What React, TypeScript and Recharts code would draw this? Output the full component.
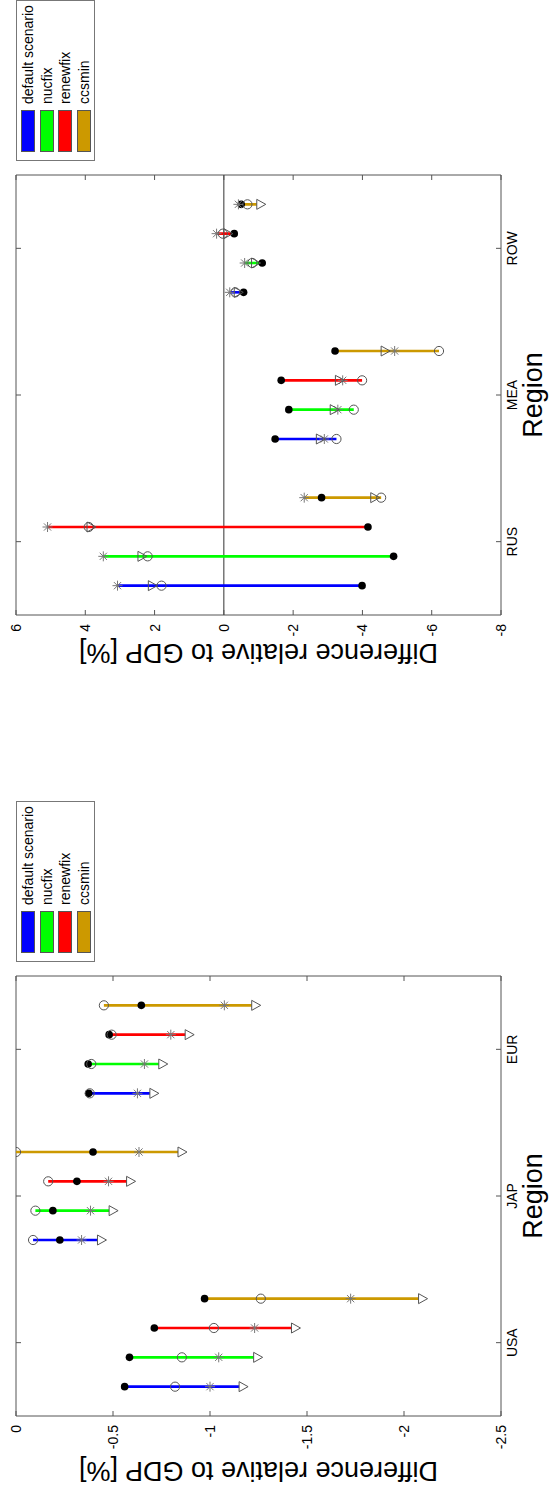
import React from "react";
import {
  ReferenceArea,
  ReferenceLine,
  Scatter,
  ScatterChart,
  XAxis,
  YAxis,
} from "recharts";

const SCENARIOS = ["default scenario", "nucfix", "renewfix", "ccsmin"];
const COLORS = ["#0000ff", "#00ff00", "#ff0000", "#cc9900"];
const OFFSETS = [-0.3, -0.1, 0.1, 0.3];

// left panel: rows = regions, columns = scenarios
const REGIONS_A = ["USA", "JAP", "EUR"];
const DOT_A = [
  [-0.56, -0.585, -0.713, -0.972],
  [-0.226, -0.19, -0.314, -0.397],
  [-0.375, -0.372, -0.48, -0.646],
];
const CIRCLE_A = [
  [-0.82, -0.855, -1.02, -1.262],
  [-0.088, -0.1, -0.166, 0],
  [-0.38, -0.388, -0.493, -0.453],
];
const STAR_A = [
  [-1.0, -1.045, -1.23, -1.725],
  [-0.338, -0.384, -0.477, -0.634],
  [-0.626, -0.662, -0.798, -1.074],
];
const TRI_A = [
  [-1.15, -1.225, -1.42, -2.075],
  [-0.42, -0.48, -0.57, -0.835],
  [-0.69, -0.736, -0.872, -1.215],
];
const TICKS_A = [0, -0.5, -1, -1.5, -2, -2.5];

// right panel
const REGIONS_B = ["RUS", "MEA", "ROW"];
const DOT_B = [
  [-3.99, -4.9, -4.16, -2.82],
  [-1.48, -1.875, -1.655, -3.21],
  [-0.57, -1.107, -0.3, -0.5],
];
const CIRCLE_B = [
  [1.8, 2.2, 3.9, -4.54],
  [-3.25, -3.75, -3.99, -6.21],
  [-0.33, -0.82, 0.03, -0.68],
];
const STAR_B = [
  [3.07, 3.48, 5.09, -2.32],
  [-2.9, -3.29, -3.43, -4.93],
  [-0.17, -0.6, 0.21, -0.42],
];
const TRI_B = [
  [2.18, 2.48, 3.95, -4.24],
  [-2.67, -3.07, -3.22, -4.54],
  [-0.3, -0.8, 0.0, -0.95],
];
const TICKS_B = [6, 4, 2, 0, -2, -4, -6, -8];

// plot box inside each chart svg
const PL = 76;
const PR = 516;
const PT = 16;
const PB = 501;
const BOX = "#555";
const FONT = "'Liberation Sans', Arial, sans-serif";

const pointsOf = (vals: number[][]) =>
  vals.flatMap((row, r) =>
    row.map((v, s) => ({ x: r + 1 + OFFSETS[s], y: v }))
  );

const Dot = ({ cx, cy }: any) => <circle cx={cx} cy={cy} r={3.8} fill="#000" />;
const Ring = ({ cx, cy }: any) => (
  <circle cx={cx} cy={cy} r={4.6} fill="none" stroke="#555" strokeWidth={1} />
);
const Star = ({ cx, cy }: any) => (
  <g stroke="#777" strokeWidth={1}>
    <line x1={cx - 5} x2={cx + 5} y1={cy} y2={cy} />
    <line x1={cx} x2={cx} y1={cy - 5} y2={cy + 5} />
    <line x1={cx - 3.6} x2={cx + 3.6} y1={cy - 3.6} y2={cy + 3.6} />
    <line x1={cx - 3.6} x2={cx + 3.6} y1={cy + 3.6} y2={cy - 3.6} />
  </g>
);
const Tri = ({ cx, cy }: any) => (
  <path
    d={`M${cx - 5},${cy} L${cx + 5},${cy} L${cx},${cy + 9} Z`}
    fill="none"
    stroke="#555"
    strokeWidth={1}
  />
);

function Panel({
  regions,
  dot,
  circle,
  star,
  tri,
  ticks,
  zero,
  labelDx,
}: {
  regions: string[];
  dot: number[][];
  circle: number[][];
  star: number[][];
  tri: number[][];
  ticks: number[];
  zero?: boolean;
  labelDx: number;
}) {
  const lo = Math.min(...ticks);
  const hi = Math.max(...ticks);

  const yTick = ({ y, payload }: any) => (
    <g>
      <line x1={PL} x2={PL + 5} y1={y} y2={y} stroke={BOX} />
      <line x1={PR - 5} x2={PR} y1={y} y2={y} stroke={BOX} />
      <text x={PL - 9} y={y} dy="0.36em" textAnchor="end" fontSize={14} fill="#000">
        {String(payload.value)}
      </text>
    </g>
  );
  const xTick = ({ x, payload }: any) => (
    <g>
      <line x1={x} x2={x} y1={PT} y2={PT + 5} stroke={BOX} />
      <line x1={x} x2={x} y1={PB - 5} y2={PB} stroke={BOX} />
      <text x={x} y={PB + 6} dy="0.71em" textAnchor="middle" fontSize={14} fill="#000">
        {regions[payload.value - 1]}
      </text>
    </g>
  );

  return (
    <ScatterChart
      width={530}
      height={549}
      margin={{ top: PT, right: 530 - PR, bottom: 0, left: 0 }}
    >
      <XAxis
        type="number"
        dataKey="x"
        domain={[0.5, 3.5]}
        ticks={[1, 2, 3]}
        allowDataOverflow
        axisLine={false}
        tickLine={false}
        tick={xTick}
        height={549 - PB}
        interval={0}
        label={{ value: "Region", position: "insideBottom", offset: 7, fontSize: 27, fill: "#000" }}
      />
      <YAxis
        type="number"
        dataKey="y"
        domain={[lo, hi]}
        ticks={ticks}
        allowDataOverflow
        axisLine={false}
        tickLine={false}
        tick={yTick}
        width={PL}
        interval={0}
        label={{
          value: "Difference relative to GDP [%]",
          angle: -90,
          position: "center",
          dx: labelDx,
          fontSize: 27,
          fill: "#000",
        }}
      />
      <ReferenceArea x1={0.5} x2={3.5} y1={lo} y2={hi} fill="none" stroke={BOX} strokeWidth={1} fillOpacity={0} />
      {zero && <ReferenceLine y={0} stroke="#333" strokeWidth={1} />}
      {regions.flatMap((reg, r) =>
        SCENARIOS.map((sc, s) => {
          const vals = [dot[r][s], circle[r][s], star[r][s], tri[r][s]];
          const x = r + 1 + OFFSETS[s];
          return (
            <Scatter
              key={`${reg}-${sc}`}
              data={[
                { x, y: Math.max(...vals) },
                { x, y: Math.min(...vals) },
              ]}
              fill={COLORS[s]}
              line={{ stroke: COLORS[s], strokeWidth: 2.6 }}
              shape={() => <g />}
              legendType="none"
              isAnimationActive={false}
            />
          );
        })
      )}
      <Scatter data={pointsOf(dot)} shape={Dot} isAnimationActive={false} />
      <Scatter data={pointsOf(circle)} shape={Ring} isAnimationActive={false} />
      <Scatter data={pointsOf(star)} shape={Star} isAnimationActive={false} />
      <Scatter data={pointsOf(tri)} shape={Tri} isAnimationActive={false} />
    </ScatterChart>
  );
}

function LegendBox({ left }: { left: number }) {
  return (
    <div
      style={{
        position: "absolute",
        left,
        top: 16,
        width: 161,
        height: 79,
        border: "1px solid #777",
        boxSizing: "border-box",
        background: "#fff",
        fontSize: 14,
      }}
    >
      {SCENARIOS.map((name, s) => (
        <div
          key={name}
          style={{
            position: "absolute",
            left: 8,
            top: 4 + s * 18.6,
            height: 14,
            display: "flex",
            alignItems: "center",
            whiteSpace: "nowrap",
          }}
        >
          <div
            style={{
              width: 42,
              height: 14,
              background: COLORS[s],
              border: "1px solid #555",
              boxSizing: "border-box",
            }}
          />
          <span style={{ marginLeft: 6, lineHeight: "14px" }}>{name}</span>
        </div>
      ))}
    </div>
  );
}

export default function App() {
  return (
    <div
      style={{
        position: "absolute",
        left: 0,
        top: 0,
        width: 549,
        height: 1492,
        overflow: "hidden",
        background: "#fff",
        fontFamily: FONT,
      }}
    >
      <div
        style={{
          position: "absolute",
          left: 0,
          top: 0,
          width: 1492,
          height: 549,
          transformOrigin: "0 0",
          transform: "translate(0px, 1492px) rotate(-90deg)",
        }}
      >
        <div style={{ position: "absolute", left: 0, top: 0 }}>
          <Panel
            regions={REGIONS_A}
            dot={DOT_A}
            circle={CIRCLE_A}
            star={STAR_A}
            tri={TRI_A}
            ticks={TICKS_A}
            labelDx={-18}
          />
        </div>
        <LegendBox left={530} />
        <div style={{ position: "absolute", left: 801, top: 0 }}>
          <Panel
            regions={REGIONS_B}
            dot={DOT_B}
            circle={CIRCLE_B}
            star={STAR_B}
            tri={TRI_B}
            ticks={TICKS_B}
            zero
            labelDx={-1}
          />
        </div>
        <LegendBox left={1331} />
      </div>
    </div>
  );
}
